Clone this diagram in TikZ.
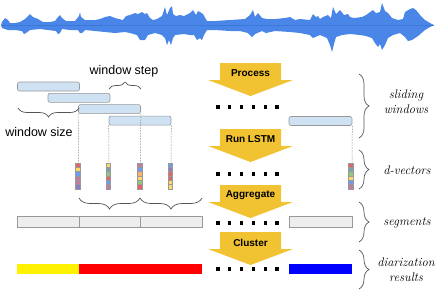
\documentclass[tikz,border=0pt]{standalone}
\usepackage{fontspec}
\newfontfamily\arialf{Liberation Sans}
\usetikzlibrary{decorations.pathreplacing}
\definecolor{wave}{HTML}{4A86E8}
\definecolor{wavec}{HTML}{3C78D8}
\definecolor{arrowc}{HTML}{F1C232}
\definecolor{winf}{HTML}{CFE2F3}
\definecolor{winb}{HTML}{999999}
\definecolor{segf}{HTML}{EEEEEE}
\definecolor{segb}{HTML}{999999}
\definecolor{dashc}{HTML}{888888}
\definecolor{bracec}{HTML}{555555}
\definecolor{cr}{HTML}{E06666}
\definecolor{cy}{HTML}{FFD966}
\definecolor{cb}{HTML}{6D9EEB}
\definecolor{cg}{HTML}{93C47D}
\definecolor{cp}{HTML}{8E7CC3}
\definecolor{ck}{HTML}{C27BA0}
\definecolor{co}{HTML}{F6B26B}
\definecolor{ct}{HTML}{76A5AF}
\newcommand\yarrow[3]{%
  \fill[arrowc] (220,#1) -- (281,#1) -- (281,#1+17) -- (293,#1+17) -- (250.5,#1+33) -- (208,#1+17) -- (220,#1+17) -- cycle;
  \node[atxt] (#2) at (250.5,#1+10.5) {#3};}
\newcommand\dvec[2]{%
  \foreach \c [count=\k] in {#2}
    \filldraw[draw=gray!80, fill=\c, line width=0.3pt] (#1-2.2,163+\k*4.3-4.3) rectangle ++(4.4,4.3);}
\newcommand\dotrow[1]{%
  \foreach \i in {0,...,5} \fill (218+\i*11.8-1.6,#1-1.6) rectangle ++(3.2,3.2);}
\begin{document}
\begin{tikzpicture}[x=1pt,y=-1pt,
  win/.style={draw=winb, fill=winf, rounded corners=2pt, line width=0.6pt, minimum width=62pt, minimum height=9pt, inner sep=0pt},
  seg/.style={draw=segb, fill=segf, line width=0.6pt, minimum height=11pt, inner sep=0pt},
  res/.style={minimum height=10pt, inner sep=0pt, draw=none},
  dashln/.style={draw=dashc, dash pattern=on 1.5pt off 1.2pt, line width=0.5pt},
  brc/.style={draw=bracec, line width=0.7pt, decorate, decoration={brace, amplitude=#1}},
  brc/.default=8,
  atxt/.style={font=\arialf\bfseries\fontsize{10}{12}\selectfont, inner sep=0pt},
  lbl/.style={font=\arialf\fontsize{12.5}{14}\selectfont, inner sep=0pt},
  rl/.style={font=\itshape\fontsize{12.5}{15}\selectfont, align=center, inner sep=0pt}
]
\useasboundingbox (0,0) rectangle (437,293);
% waveform
\fill[wave] plot coordinates {(1,25)(2,22)(5,18)(8,20)(10,23)(15,23)(20,22)(25,19)(28,16)(30,14)(33,17)(38,19)(43,22)(50,22)(55,21)(58,17)(60,15)(62,18)(66,21)(75,21)(79,16)(80,12)(81,17)(85,20)(95,20)(100,19)(105,17)(110,16)(115,18)(123,20)(126,16)(130,15)(135,13)(138,14)(142,12)(145,14)(147,13)(150,18)(153,20)(157,19)(162,16)(165,7)(167,15)(170,8)(172,6)(173,14)(176,16)(180,15)(184,16)(190,13)(193,10)(196,15)(198,11)(200,12)(203,14)(207,21)(215,21)(230,20)(245,19)(250,15)(253,10)(255,17)(258,13)(262,18)(267,19)(275,19)(285,18)(290,17)(295,20)(300,19)(310,20)(313,14)(316,17)(318,16)(320,19)(323,17)(328,15)(331,18)(333,7)(336,14)(340,10)(344,15)(348,14)(350,17)(354,18)(362,17)(366,15)(373,10)(376,13)(380,12)(382,3)(385,11)(388,13)(392,18)(398,20)(403,19)(405,12)(410,9)(413,8)(416,10)(420,15)(425,20)(430,23)(434,25)
(430,27)(425,30)(418,36)(412,40)(408,41)(405,37)(400,33)(393,35)(388,38)(385,45)(382,50)(380,44)(378,47)(375,43)(372,38)(366,36)(360,35)(350,34)(342,35)(336,37)(334,44)(332,52)(330,45)(327,38)(320,35)(313,38)(310,35)(300,33)(290,32)(275,31)(266,33)(262,31)(255,34)(252,37)(248,33)(240,31)(230,31)(215,30)(207,30)(204,35)(202,40)(200,38)(197,40)(194,35)(190,35)(184,34)(175,35)(173,38)(171,45)(169,40)(167,45)(165,38)(162,35)(155,33)(148,35)(145,40)(140,40)(137,35)(130,33)(125,32)(115,33)(105,32)(95,31)(85,30)(82,33)(80,33)(78,30)(70,30)(62,29)(60,33)(58,34)(56,31)(48,30)(40,29)(30,30)(26,33)(24,34)(22,31)(15,30)(8,30)(5,29)(2,28)} -- cycle;
\draw[wavec, line width=0.4pt] (2,25) -- (434,25);
% arrows
\yarrow{63}{aproc}{Process}
\yarrow{129}{alstm}{Run LSTM}
\yarrow{185}{aagg}{Aggregate}
\yarrow{232}{aclu}{Cluster}
\dotrow{107}\dotrow{174}\dotrow{223}\dotrow{269}
% windows
\node[win] (w1) at (48.5,86.5) {};
\node[win] (w2) at (79,97.8) {};
\node[win] (w3) at (109.5,109.1) {};
\node[win] (w4) at (140,120.6) {};
\node[win, minimum width=63pt] (wr) at (320.5,121) {};
% d-vector tops
\coordinate (d1) at (78.5,163);
\coordinate (d2) at (109,163);
\coordinate (d3) at (140.5,163);
\coordinate (d4) at (171,163);
\coordinate (dr) at (352,163);
\draw[dashln] (w3.south west) -- (d1);
\draw[dashln] (w4.south west) -- (d2);
\draw[dashln] (w3.south east) -- (d3);
\draw[dashln] (w4.south east) -- (d4);
\draw[dashln] (wr.south east) -- (dr);
\dvec{77.5}{cr,cy,cb,ck,ck,cp}
\dvec{108}{cy,ct,cg,cr,cb,ck}
\dvec{139.5}{ck,cb,co,cy,cg,cr}
\dvec{170}{cb,cp,cr,cr,cy,cy}
\dvec{350.5}{cr,ct,cg,cy,cb,ck}
% left braces and labels
\draw[brc=7] (109,89) -- (141,89);
\node[lbl] (tstep) at (124,71) {window step};
\draw[brc=9] (79,108) -- (18,108);
\node[lbl] (tsize) at (39,132) {window size};
\draw[brc=11] (140,198) -- (79,198);
\draw[brc=11] (202,198) -- (140,198);
% segments
\node[seg, minimum width=62pt] (s1) at (48,221.5) {};
\node[seg, minimum width=61pt] (s2) at (109.5,221.5) {};
\node[seg, minimum width=62pt] (s3) at (171,221.5) {};
\node[seg, minimum width=63pt] (sr) at (320.5,221.5) {};
% results
\node[res, fill=yellow, minimum width=62pt] (r1) at (48,269) {};
\node[res, fill=red, minimum width=123pt] (r2) at (140.5,269) {};
\node[res, fill=blue, minimum width=63pt] (rr) at (320.5,269) {};
% right braces
\draw[brc=10] (359,74) -- (359,138);
\draw[brc=10] (359,150) -- (359,189);
\draw[brc=10] (359,202) -- (359,242);
\draw[brc=10] (359,250) -- (359,289);
\node[rl] (tsw) at (406,102) {sliding\\windows};
\node[rl] (tdv) at (407,170) {d-vectors};
\node[rl] (tsg) at (407,223) {segments};
\node[rl] (tdr) at (406,270) {diarization\\results};
\end{tikzpicture}
\end{document}
